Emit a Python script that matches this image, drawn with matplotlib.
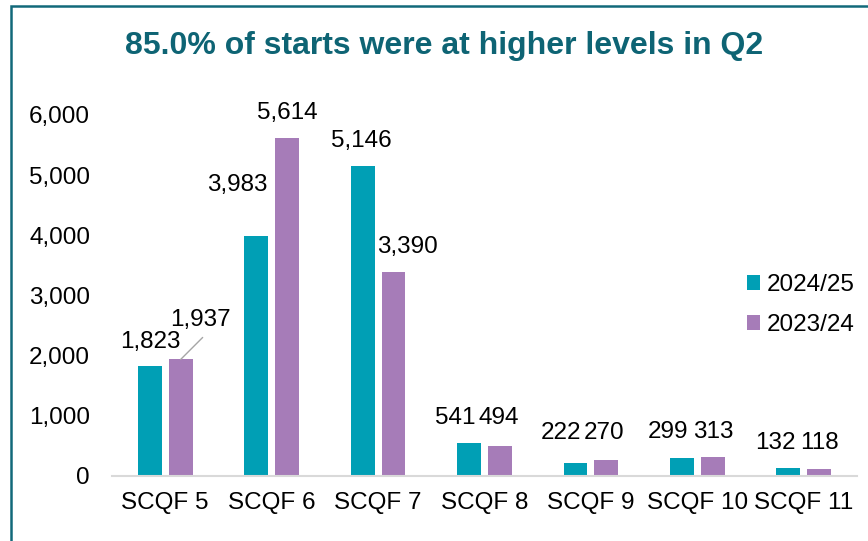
import matplotlib
matplotlib.use("Agg")
import matplotlib.pyplot as plt
import numpy as np
from matplotlib.patches import Rectangle

plt.rcParams["font.family"] = ["Liberation Sans", "DejaVu Sans"]

# data
levels = ["SCQF 5", "SCQF 6", "SCQF 7", "SCQF 8", "SCQF 9", "SCQF 10", "SCQF 11"]
starts_2425 = [1823, 3983, 5146, 541, 222, 299, 132]
starts_2324 = [1937, 5614, 3390, 494, 270, 313, 118]
series_names = ["2024/25", "2023/24"]
title = "85.0% of starts were at higher levels in Q2"

# label nudges (pixels, dx right / dy up from bar top) -- Excel labels were hand-moved
nudge_2425 = [(1, 24), (-19, 51), (-1, 25), (-14, 25), (-14, 30), (-14, 26), (-13, 25)]
nudge_2324 = [(20, 39), (0, 25), (14, 25), (-1, 28), (-2, 27), (1, 25), (0, 26)]

TEAL = "#009FB5"
PURPLE = "#A67CB8"
TITLE_C = "#0E6474"
PX = 0.72  # points per pixel at dpi 100
FS = 17.5

fig = plt.figure(figsize=(8.68, 5.41), dpi=100)
ax = fig.add_axes([112 / 868, 65 / 541, 745 / 868, 361 / 541])

x = np.arange(len(levels))
off, w = 0.145, 0.225
b1 = ax.bar(x - off, starts_2425, w, color=TEAL, label=series_names[0])
b2 = ax.bar(x + off, starts_2324, w, color=PURPLE, label=series_names[1])

ax.set_xlim(-0.5, len(levels) - 0.5)
ax.set_ylim(0, 6000)
ax.set_yticks(np.arange(0, 6001, 1000))
ax.set_yticklabels([f"{v:,}" for v in range(0, 6001, 1000)])
ax.set_xticks(x)
ax.set_xticklabels(levels)
ax.tick_params(axis="y", length=0, pad=15.8, labelsize=FS)
ax.tick_params(axis="x", length=0, pad=11.5, labelsize=FS)
for s in ["top", "right", "left"]:
    ax.spines[s].set_visible(False)
ax.spines["bottom"].set_color("#D9D9D9")
ax.spines["bottom"].set_linewidth(1.5)

for bars, vals, nudges in [(b1, starts_2425, nudge_2425), (b2, starts_2324, nudge_2324)]:
    for bar, v, (dx, dy) in zip(bars, vals, nudges):
        cx = bar.get_x() + bar.get_width() / 2
        ax.annotate(f"{v:,}", xy=(cx, v), xytext=(dx * PX, dy * PX),
                    textcoords="offset points", ha="center", va="center",
                    fontsize=FS, annotation_clip=False)

# leader line for the moved 1,937 label
bar = b2[0]
cx = bar.get_x() + bar.get_width() / 2
ax.annotate("", xy=(cx, starts_2324[0]), xytext=(22 * PX, 22 * PX),
            textcoords="offset points",
            arrowprops=dict(arrowstyle="-", color="#A6A6A6", lw=1, shrinkA=0, shrinkB=0))

leg = fig.legend(handles=[b1, b2], loc="center left", bbox_to_anchor=(747 / 868, 1 - 305 / 541),
                 frameon=False, fontsize=FS, handlelength=0.55, handleheight=0.55,
                 handletextpad=0.25, labelspacing=0.75, borderpad=0, borderaxespad=0)

fig.text(444 / 868, 1 - 46 / 541, title, ha="center", va="center",
         fontsize=23, fontweight="bold", color=TITLE_C)

# chart border (only left and top edges fall inside the crop)
fig.patches.append(Rectangle((11 / 868, -0.1), 1.2, 1.1 - 6 / 541, transform=fig.transFigure,
                             fill=False, edgecolor="#12697A", linewidth=1.8))

fig.savefig("out.png", dpi=100)
